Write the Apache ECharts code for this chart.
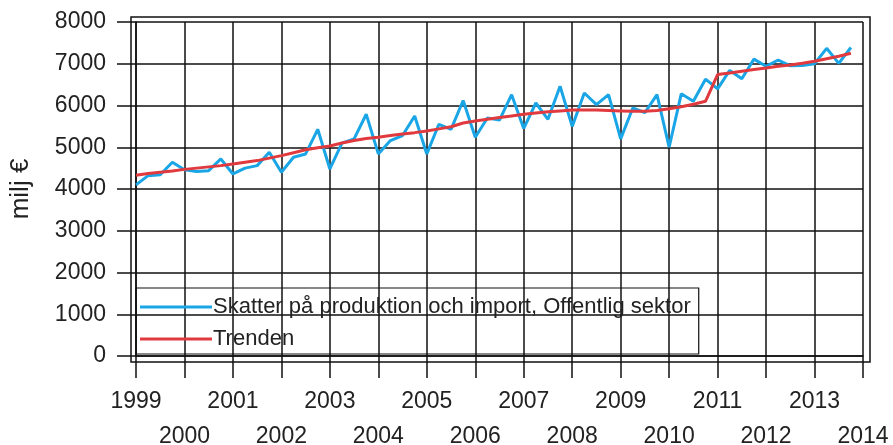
<!DOCTYPE html>
<html><head><meta charset="utf-8">
<script src="https://cdn.jsdelivr.net/npm/echarts@6/dist/echarts.min.js"></script>
<style>html,body{margin:0;padding:0;background:#fff}#c{width:893px;height:445px}</style>
</head><body><div id="c"></div><script>
const years = [1999,2000,2001,2002,2003,2004,2005,2006,2007,2008,2009,2010,2011,2012,2013,2014];
const quarterNames = ['Q1','Q2','Q3','Q4'];
const seriesNames = ['Skatter på produktion och import, Offentlig sektor', 'Trenden'];
const taxes = [
  4100, 4320, 4340, 4640,
  4460, 4420, 4440, 4720,
  4360, 4500, 4560, 4880,
  4400, 4760, 4840, 5430,
  4480, 5100, 5200, 5790,
  4840, 5160, 5280, 5750,
  4840, 5550, 5430, 6120,
  5240, 5700, 5650, 6260,
  5450, 6060, 5670, 6460,
  5500, 6300, 6020, 6260,
  5200, 5940, 5830, 6260,
  5000, 6280, 6100, 6630,
  6400, 6840, 6640, 7110,
  6940, 7090, 6950, 6960,
  7000, 7370, 7010, 7390
];
const trend = [
  4330, 4370, 4400, 4430,
  4470, 4500, 4530, 4560,
  4600, 4640, 4680, 4740,
  4800, 4870, 4940, 4990,
  5030, 5100, 5160, 5210,
  5240, 5280, 5320, 5350,
  5390, 5440, 5490, 5580,
  5630, 5670, 5710, 5750,
  5790, 5820, 5850, 5870,
  5890, 5890, 5890, 5880,
  5870, 5860, 5860, 5880,
  5920, 5970, 6030, 6100,
  6740, 6780, 6820, 6860,
  6900, 6940, 6970, 7010,
  7060, 7120, 7180, 7250
];
const yTicks = {min: 0, max: 8000, step: 1000};

const categories = [];
years.forEach(y => quarterNames.forEach(q => { if (y < 2014 || q === 'Q1') categories.push(y + q); }));

const FONT = 'Liberation Sans, Arial, sans-serif';
const labelBase = {interval: 3, color: '#222', fontSize: 23, fontFamily: FONT,
  showMinLabel: true, showMaxLabel: true, hideOverlap: false};
const chart = echarts.init(document.getElementById('c'), null, {renderer: 'canvas'});
chart.setOption({
  animation: false,
  backgroundColor: '#fff',
  textStyle: {fontFamily: FONT},
  grid: [
    {left: 136, top: 22, width: 727, height: 334, containLabel: false, outerBoundsMode: 'none', z: 2},
    {left: 131, top: 17, width: 739, height: 345, show: true, borderColor: '#111', borderWidth: 1.5, backgroundColor: 'transparent', outerBoundsMode: 'none', z: 1}
  ],
  xAxis: [{
    type: 'category', gridIndex: 0, data: categories, boundaryGap: false,
    axisLine: {show: true, lineStyle: {color: '#111', width: 1.5}},
    axisTick: {show: true, interval: 3, length: 22, lineStyle: {color: '#111', width: 1.5}},
    splitLine: {show: true, interval: 3, lineStyle: {color: '#111', width: 1.5}},
    axisLabel: Object.assign({}, labelBase, {margin: 34,
      formatter: v => { const y = parseInt(v, 10); return (y % 2 === 0) ? '' : String(y); }})
  }, {type: 'value', gridIndex: 1, show: false}, {
    type: 'category', gridIndex: 0, data: categories, boundaryGap: false, position: 'bottom',
    axisLine: {show: false}, axisTick: {show: false}, splitLine: {show: false},
    axisLabel: Object.assign({}, labelBase, {margin: 69,
      formatter: v => { const y = parseInt(v, 10); return (y % 2 === 0) ? String(y) : ''; }})
  }],
  yAxis: [{
    type: 'value', gridIndex: 0, min: yTicks.min, max: yTicks.max, interval: yTicks.step,
    name: 'milj €', nameLocation: 'middle', nameRotate: 90, nameGap: 102,
    nameTextStyle: {color: '#222', fontSize: 26, fontFamily: FONT},
    axisLine: {show: true, lineStyle: {color: '#111', width: 1.5}},
    axisTick: {show: true, length: 19, lineStyle: {color: '#111', width: 1.5}},
    splitLine: {show: true, lineStyle: {color: '#111', width: 1.5}},
    axisLabel: {margin: 30, color: '#222', fontSize: 23, fontFamily: FONT, formatter: v => String(v)}
  }, {type: 'value', gridIndex: 1, show: false}],
  legend: {
    orient: 'vertical', left: 136, top: 288, icon: 'rect',
    borderColor: '#111', borderWidth: 1.2, padding: [8, 8, 4, 4],
    itemWidth: 72, itemHeight: 3, itemGap: 10,
    textStyle: {color: '#222', fontSize: 22, fontFamily: FONT, padding: [0, 0, 0, -4]},
    data: seriesNames
  },
  series: [
    {name: seriesNames[0], type: 'line', data: taxes, symbol: 'none', xAxisIndex: 0, yAxisIndex: 0,
     lineStyle: {color: '#1aa6e6', width: 3}, itemStyle: {color: '#1aa6e6'}, z: 3},
    {name: seriesNames[1], type: 'line', data: trend, symbol: 'none', xAxisIndex: 0, yAxisIndex: 0,
     lineStyle: {color: '#e03a3e', width: 3}, itemStyle: {color: '#e03a3e'}, z: 4}
  ]
});
</script></body></html>
